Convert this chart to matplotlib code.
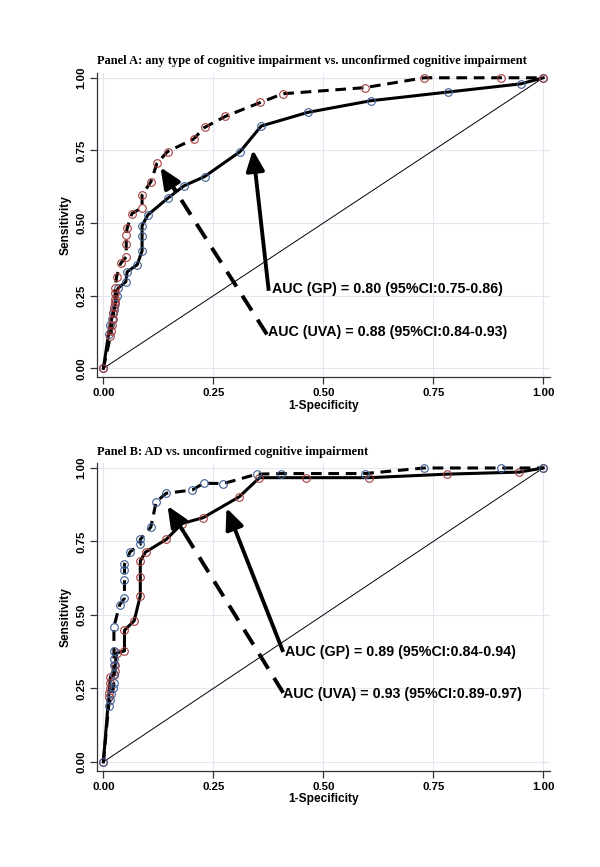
import matplotlib
matplotlib.use("Agg")
import matplotlib.pyplot as plt

# ---- Panel A: any type of cognitive impairment ----
a_gp_fpr = [0.0, 0.012, 0.016, 0.019, 0.021, 0.024, 0.027, 0.030, 0.033, 0.051, 0.054,
            0.077, 0.088, 0.088, 0.088, 0.101, 0.146, 0.183, 0.230, 0.311, 0.359,
            0.465, 0.608, 0.784, 0.949, 1.0]
a_gp_tpr = [0.0, 0.12, 0.15, 0.17, 0.19, 0.20, 0.22, 0.25, 0.275, 0.298, 0.332,
            0.357, 0.404, 0.457, 0.491, 0.528, 0.585, 0.628, 0.660, 0.746, 0.834,
            0.881, 0.921, 0.951, 0.979, 1.0]

a_uva_fpr = [0.0, 0.016, 0.018, 0.020, 0.022, 0.023, 0.025, 0.026, 0.027, 0.027, 0.027,
             0.030, 0.039, 0.052, 0.052, 0.052, 0.054, 0.065, 0.088, 0.088, 0.108,
             0.122, 0.146, 0.205, 0.230, 0.277, 0.357, 0.408, 0.594, 0.730, 0.905, 1.0]
a_uva_tpr = [0.0, 0.11, 0.13, 0.15, 0.17, 0.19, 0.21, 0.23, 0.24, 0.26, 0.275,
             0.315, 0.361, 0.384, 0.427, 0.459, 0.482, 0.533, 0.553, 0.597, 0.642,
             0.706, 0.746, 0.789, 0.829, 0.867, 0.915, 0.945, 0.966, 1.0, 1.0, 1.0]

# ---- Panel B: AD ----
b_gp_fpr = [0.0, 0.012, 0.013, 0.014, 0.015, 0.016, 0.024, 0.027, 0.027, 0.030, 0.048,
            0.048, 0.070, 0.084, 0.084, 0.084, 0.096, 0.143, 0.179, 0.227, 0.309,
            0.355, 0.461, 0.605, 0.781, 0.946, 1.0]
b_gp_tpr = [0.0, 0.22, 0.235, 0.25, 0.27, 0.29, 0.295, 0.31, 0.33, 0.37, 0.378,
            0.448, 0.480, 0.565, 0.629, 0.684, 0.714, 0.757, 0.811, 0.831, 0.902,
            0.967, 0.967, 0.967, 0.979, 0.986, 1.0]

b_uva_fpr = [0.0, 0.012, 0.015, 0.018, 0.022, 0.024, 0.024, 0.024, 0.024, 0.024, 0.024,
             0.037, 0.048, 0.048, 0.048, 0.048, 0.061, 0.084, 0.084, 0.108, 0.120,
             0.143, 0.202, 0.228, 0.273, 0.349, 0.404, 0.594, 0.730, 0.905, 1.0]
b_uva_tpr = [0.0, 0.19, 0.21, 0.23, 0.25, 0.27, 0.30, 0.33, 0.35, 0.378, 0.460,
             0.534, 0.557, 0.619, 0.652, 0.672, 0.715, 0.740, 0.757, 0.799, 0.885,
             0.914, 0.925, 0.948, 0.947, 0.979, 0.981, 0.981, 1.0, 1.0, 1.0]

titles = ["Panel A: any type of cognitive impairment vs. unconfirmed cognitive impairment",
          "Panel B: AD vs. unconfirmed cognitive impairment"]
auc_gp = ["AUC (GP) = 0.80 (95%CI:0.75-0.86)", "AUC (GP) = 0.89 (95%CI:0.84-0.94)"]
auc_uva = ["AUC (UVA) = 0.88 (95%CI:0.84-0.93)", "AUC (UVA) = 0.93 (95%CI:0.89-0.97)"]
ticks = [0.0, 0.25, 0.5, 0.75, 1.0]
tick_labels = ["0.00", "0.25", "0.50", "0.75", "1.00"]

RED = "#a83c3c"
BLUE = "#3f5f95"
SANS = "Liberation Sans"
SERIF = "Liberation Serif"


def arrow(ax, tail, head, dashed):
    # shaft stops a bit short of the tip, the head is drawn on top
    k = 0.88
    end = (tail[0] + (head[0] - tail[0]) * k, tail[1] + (head[1] - tail[1]) * k)
    ax.plot([tail[0], end[0]], [tail[1], end[1]], color="black", lw=2.8,
            ls=(0, (4.5, 2.8)) if dashed else "-", solid_capstyle="butt",
            dash_capstyle="butt", zorder=4)
    back = (head[0] + (tail[0] - head[0]) * 0.14, head[1] + (tail[1] - head[1]) * 0.14)
    ax.annotate("", xy=head, xytext=back,
                arrowprops=dict(arrowstyle="-|>,head_length=1.25,head_width=0.55",
                                color="black", lw=2.8, shrinkA=0, shrinkB=0),
                zorder=5)


def draw_panel(ax, gp, uva, gp_col, uva_col, title, txt_gp, txt_uva,
               gp_tail, gp_head, uva_tail, uva_head, gp_pos, uva_pos):
    ax.set_xlim(-0.014, 1.016)
    ax.set_ylim(-0.03, 1.017)
    ax.set_xticks(ticks)
    ax.set_yticks(ticks)
    ax.set_xticklabels(tick_labels, fontfamily=SANS, fontweight="bold", fontsize=8.2)
    ax.set_yticklabels(tick_labels, fontfamily=SANS, fontweight="bold", fontsize=8.2,
                       rotation=90, va="center")
    ax.grid(True, color="#e1e6f0", lw=0.8)
    ax.set_axisbelow(True)
    for s in ["top", "right"]:
        ax.spines[s].set_visible(False)
    for s in ["left", "bottom"]:
        ax.spines[s].set_color("#333333")
        ax.spines[s].set_linewidth(0.9)
    ax.tick_params(direction="out", length=5, width=0.9, color="#333333", pad=3)

    ax.plot([0, 1], [0, 1], color="black", lw=0.7, zorder=2)
    ax.plot(gp[0], gp[1], color="black", lw=2.2, ls="-", marker="o", ms=5.5,
            mfc="none", mec=gp_col, mew=0.8, zorder=3)
    ax.plot(uva[0], uva[1], color="black", lw=2.2, ls=(0, (3.5, 2.2)), marker="o", ms=5.5,
            mfc="none", mec=uva_col, mew=0.8, zorder=3)

    arrow(ax, gp_tail, gp_head, dashed=False)
    arrow(ax, uva_tail, uva_head, dashed=True)
    ax.text(gp_pos[0], gp_pos[1], txt_gp, fontfamily=SANS, fontweight="bold",
            fontsize=10.3, va="center", ha="left")
    ax.text(uva_pos[0], uva_pos[1], txt_uva, fontfamily=SANS, fontweight="bold",
            fontsize=10.3, va="center", ha="left")

    ax.set_title(title, loc="left", fontfamily=SERIF, fontweight="bold", fontsize=8.9, pad=6)
    ax.set_xlabel("1-Specificity", fontfamily=SANS, fontweight="bold", fontsize=8.6, labelpad=1)
    ax.set_ylabel("Sensitivity", fontfamily=SANS, fontweight="bold", fontsize=8.6, labelpad=3)


fig = plt.figure(figsize=(6, 8.67), dpi=100)
ax_a = fig.add_axes([0.162, 0.565, 0.755, 0.351])
ax_b = fig.add_axes([0.162, 0.111, 0.755, 0.355])

draw_panel(ax_a, (a_gp_fpr, a_gp_tpr), (a_uva_fpr, a_uva_tpr), BLUE, RED, titles[0],
           auc_gp[0], auc_uva[0],
           gp_tail=(0.376, 0.267), gp_head=(0.340, 0.752),
           uva_tail=(0.372, 0.117), uva_head=(0.130, 0.692),
           gp_pos=(0.384, 0.272), uva_pos=(0.375, 0.124))

draw_panel(ax_b, (b_gp_fpr, b_gp_tpr), (b_uva_fpr, b_uva_tpr), RED, BLUE, titles[1],
           auc_gp[1], auc_uva[1],
           gp_tail=(0.409, 0.374), gp_head=(0.280, 0.864),
           uva_tail=(0.409, 0.235), uva_head=(0.146, 0.871),
           gp_pos=(0.414, 0.374), uva_pos=(0.409, 0.231))

fig.savefig("out.png", dpi=100)
